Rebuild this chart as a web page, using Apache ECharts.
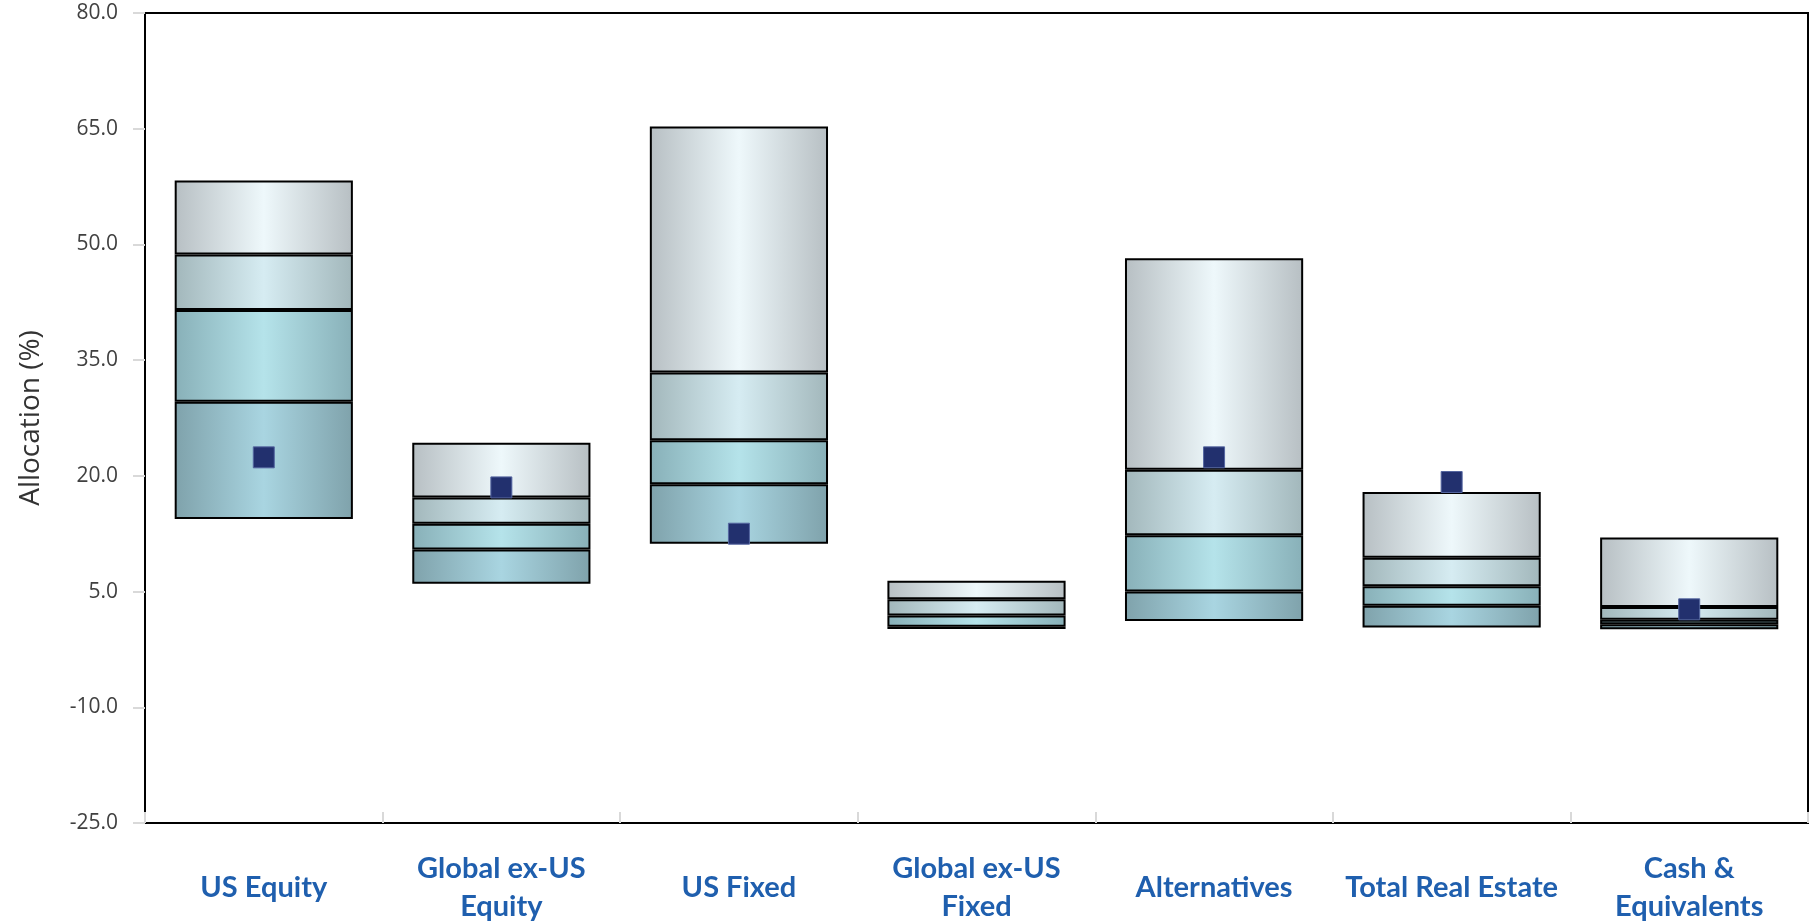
<!DOCTYPE html>
<html>
<head>
<meta charset="utf-8">
<script src="https://cdn.jsdelivr.net/npm/echarts@6/dist/echarts.min.js"></script>
<style>
html,body{margin:0;padding:0;background:#fff;}
#chart{width:1816px;height:921px;}
</style>
</head>
<body>
<div id="chart"></div>
<script>
const categories = ['US Equity', 'Global ex-US\nEquity', 'US Fixed', 'Global ex-US\nFixed', 'Alternatives', 'Total Real Estate', 'Cash &\nEquivalents'];
const p5  = [14.4, 6.0, 11.2, 0.15, 1.2, 0.35, 0.1];
const p25 = [29.6, 10.45, 18.9, 0.45, 5.0, 3.15, 0.75];
const p50 = [41.5, 13.8, 24.6, 1.9, 12.3, 5.7, 1.35];
const p75 = [48.7, 17.2, 33.4, 4.0, 20.8, 9.4, 3.0];
const p95 = [58.3, 24.3, 65.3, 6.4, 48.2, 17.9, 12.0];
const portfolio = [22.4, 18.5, 12.5, null, 22.4, 19.2, 2.7];
const yTicks = [-25, -10, 5, 20, 35, 50, 65, 80];

function grad(edge, center) {
  return new echarts.graphic.LinearGradient(0, 0, 1, 0, [
    {offset: 0, color: edge},
    {offset: 0.5, color: center},
    {offset: 1, color: edge}
  ]);
}
const segStyles = [
  grad('#7fa2ab', '#a9d5e1'),
  grad('#88b0b8', '#b5e3ea'),
  grad('#a2b7bb', '#d6ecf2'),
  grad('#b7bfc3', '#eef8fb')
];
const lowers = [p5, p25, p50, p75];
const uppers = [p25, p50, p75, p95];

const series = [{
  type: 'bar', stack: 'r', barCategoryGap: '25%',
  data: p5,
  itemStyle: {color: 'transparent', borderWidth: 0},
  emphasis: {disabled: true}, silent: true
}];
for (let k = 0; k < 4; k++) {
  series.push({
    type: 'bar', stack: 'r',
    data: uppers[k].map((v, i) => +(v - lowers[k][i]).toFixed(3)),
    itemStyle: {color: segStyles[k], borderColor: '#000', borderWidth: 2},
    emphasis: {disabled: true}
  });
}
series.push({
  type: 'scatter', symbol: 'rect', symbolSize: 21, z: 10,
  data: portfolio,
  itemStyle: {color: '#22306e', borderColor: '#5566a0', borderWidth: 1, opacity: 1},
  emphasis: {disabled: true}
});

const chart = echarts.init(document.getElementById('chart'));
chart.setOption({
  animation: false,
  grid: {left: 145, right: 8, top: 13, bottom: 98, show: true, borderColor: '#000', borderWidth: 2, containLabel: false, outerBoundsMode: 'none'},
  xAxis: {
    type: 'category', data: categories,
    axisLine: {onZero: false, lineStyle: {color: '#000', width: 2}},
    axisTick: {show: true, inside: true, length: 11, lineStyle: {color: '#d9d9d9', width: 2}},
    axisLabel: {interval: 0, margin: 65, verticalAlign: 'middle', color: '#1f5fae', fontFamily: 'Lato', fontWeight: 'bold', fontSize: 29, lineHeight: 38, align: 'center'}
  },
  yAxis: {
    type: 'value', min: -25, max: 80,
    name: 'Allocation (%)', nameLocation: 'middle', nameGap: 100, nameRotate: 90,
    nameTextStyle: {fontFamily: 'Open Sans', fontSize: 28, color: '#333'},
    splitLine: {show: false},
    axisLine: {show: true, lineStyle: {color: '#000', width: 2}},
    axisTick: {show: true, length: 12, customValues: yTicks, lineStyle: {color: '#d9d9d9', width: 2}},
    axisLabel: {customValues: yTicks, margin: 27, formatter: v => v.toFixed(1), fontFamily: 'Open Sans', fontSize: 21, color: '#404040'}
  },
  series: series
});
</script>
</body>
</html>
